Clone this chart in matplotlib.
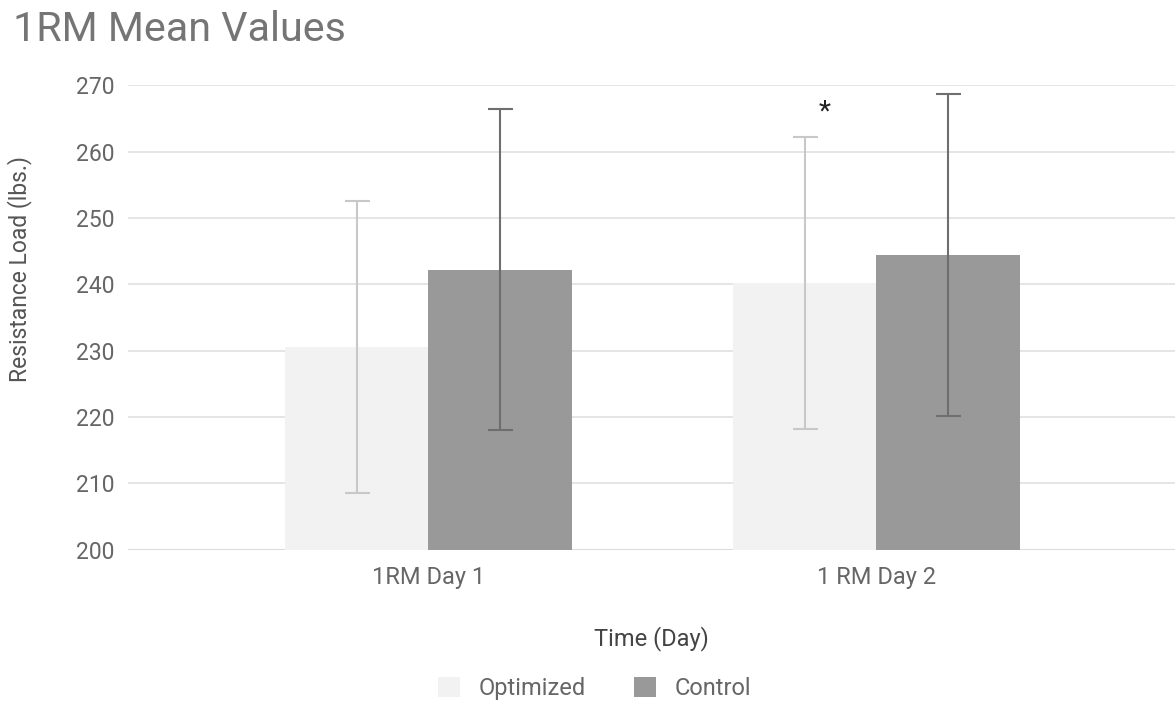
import numpy as np
import matplotlib.pyplot as plt

plt.rcParams['font.family'] = ['Roboto', 'DejaVu Sans']

# data
categories = ['1RM Day 1', '1 RM Day 2']
optimized = [230.6, 240.2]
control = [242.2, 244.4]
optimized_err = [22.0, 22.0]
control_err = [24.2, 24.2]

x = np.arange(len(categories))
w = 0.32

fig = plt.figure(figsize=(11.75, 7.04), dpi=100)
ax = fig.add_axes([0.109, 0.219, 0.891, 0.66])

ax.bar(x - w / 2, optimized, w, color='#f2f2f2', label='Optimized', zorder=2)
ax.bar(x + w / 2, control, w, color='#999999', label='Control', zorder=2)
ax.errorbar(x - w / 2, optimized, yerr=optimized_err, fmt='none', ecolor='#c8c8c8',
            elinewidth=1.5, capsize=9, capthick=1.5, zorder=3)
ax.errorbar(x + w / 2, control, yerr=control_err, fmt='none', ecolor='#6e6e6e',
            elinewidth=1.5, capsize=9, capthick=1.5, zorder=3)

# significance marker
ax.text(1 - 0.114, 265.9, '*', ha='center', va='center', fontsize=20, color='#222222')

ax.set_ylim(200, 270)
ax.set_xlim(-0.67, 1.667)
ax.set_yticks(np.arange(200, 271, 10))
ax.set_xticks(x)
ax.set_xticklabels(categories)
ax.grid(axis='y', color='#e0e0e0', linewidth=1.2, zorder=0)
ax.axhline(200, color='#cccccc', linewidth=1.5, zorder=1)
for s in ax.spines.values():
    s.set_visible(False)
ax.tick_params(axis='y', length=0, labelsize=16.5, colors='#666666', pad=10)
ax.tick_params(axis='x', length=0, labelsize=17, colors='#666666', pad=12)

ax.set_ylabel('Resistance Load (lbs.)', fontsize=16.5, color='#555555')
ax.yaxis.set_label_coords(-0.092, 0.604)
ax.set_xlabel('Time (Day)', fontsize=17, color='#444444', labelpad=26)

fig.text(0.011, 0.958, '1RM Mean Values', fontsize=29.7, color='#757575', va='center')

fig.legend(loc='center', bbox_to_anchor=(0.506, 0.022), ncol=2, frameon=False,
           fontsize=17, labelcolor='#666666', handlelength=0.95, handleheight=0.95,
           columnspacing=2.0, handletextpad=0.8)

plt.savefig('out.png', dpi=100)
